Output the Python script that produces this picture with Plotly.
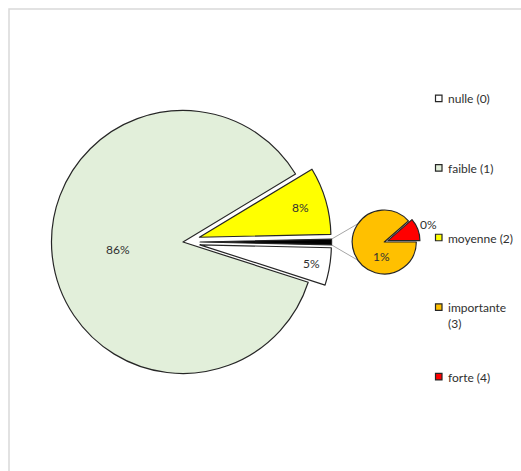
import math
import plotly.graph_objects as go

# ---------------- data ----------------
categories = ["nulle (0)", "faible (1)", "moyenne (2)", "importante (3)", "forte (4)"]
legend_text = ["nulle (0)", "faible (1)", "moyenne (2)", "importante<br>(3)", "forte (4)"]
values = [4.6, 86.4, 8.3, 0.62, 0.08]
n_second = 2  # last categories moved to the secondary pie
colors = ["#FFFFFF", "#E2EFDA", "#FFFF00", "#FFC000", "#FF0000"]
other_color = "#000000"

total = sum(values)
pct_text = [f"{round(v / total * 100)}%" for v in values]

main_labels = categories[:-n_second] + ["Autre"]
main_values = values[:-n_second] + [sum(values[-n_second:])]
main_colors = colors[:-n_second] + [other_color]
sec_labels = categories[-n_second:]
sec_values = values[-n_second:]
sec_colors = colors[-n_second:]

# ---------------- layout constants (pixels) ----------------
W, H = 521, 471
FONT = "Lato, Calibri, Carlito, sans-serif"
TXT = "#303030"
EDGE = "#262626"
FS = 12

main_c = (183.0, 242.0)
main_r = 131.5
main_pull = [0.13, 0.0, 0.13, 0.13]
sec_c = (384.3, 242.0)
sec_r = 32.0
sec_pull = [0.0, 0.12]

other_deg = main_values[-1] / total * 360
main_rot = 90 + other_deg / 2
sec_rot = 90


def domain(c, r, pull):
    half = r * (1 + max(pull))
    return dict(x=[(c[0] - half) / W, (c[0] + half) / W],
                y=[1 - (c[1] + half) / H, 1 - (c[1] - half) / H])


def slice_angles(vals, rot):
    """clockwise from 12 o'clock; returns list of (start, end) in maths degrees"""
    tot = sum(vals)
    out = []
    a = rot
    for v in vals:
        b = a + v / tot * 360
        out.append((90 - a, 90 - b))
        a = b
    return out


def polar(c, r, theta):
    t = math.radians(theta)
    return (c[0] + r * math.cos(t), c[1] - r * math.sin(t))


def to_paper(p):
    return p[0] / W, 1 - p[1] / H


fig = go.Figure()
fig.add_trace(go.Pie(
    labels=main_labels, values=main_values, sort=False, direction="clockwise",
    rotation=main_rot, pull=main_pull, domain=domain(main_c, main_r, main_pull),
    marker=dict(colors=main_colors, line=dict(color=EDGE, width=1.2)),
    textinfo="none", hoverinfo="label+percent", showlegend=False,
))
fig.add_trace(go.Pie(
    labels=sec_labels, values=sec_values, sort=False, direction="clockwise",
    rotation=sec_rot, pull=sec_pull, domain=domain(sec_c, sec_r, sec_pull),
    marker=dict(colors=sec_colors, line=dict(color=EDGE, width=1.2)),
    textinfo="none", hoverinfo="label", showlegend=False,
))

annotations = []
shapes = []
lab_font = dict(family=FONT, size=FS, color=TXT)

# data labels, main pie
main_label_r = [0.86, 0.5, 0.8]
main_ang = slice_angles(main_values, main_rot)
for i in range(len(main_values) - 1):
    a0, a1 = main_ang[i]
    mid = (a0 + a1) / 2
    cc = polar(main_c, main_pull[i] * main_r, mid)
    p = polar(cc, main_label_r[i] * main_r, mid)
    x, y = to_paper(p)
    annotations.append(dict(x=x, y=y, xref="paper", yref="paper", text=pct_text[i],
                            xanchor="center", yanchor="middle",
                            showarrow=False, font=lab_font))

# data labels, secondary pie (angle override, radius fraction)
sec_label_pos = [(-99, 0.47), (22, 1.5)]
sec_ang = slice_angles(sec_values, sec_rot)
for j, (ov, rf) in enumerate(sec_label_pos):
    a0, a1 = sec_ang[j]
    mid = (a0 + a1) / 2 if ov is None else ov
    p = polar(sec_c, rf * sec_r, mid)
    x, y = to_paper(p)
    annotations.append(dict(x=x, y=y, xref="paper", yref="paper",
                            text=pct_text[len(values) - n_second + j],
                            xanchor="center", yanchor="middle",
                            showarrow=False, font=lab_font))

# connector lines from the "other" slice to the secondary pie
o0, o1 = main_ang[-1]
omid = (o0 + o1) / 2
oc = polar(main_c, main_pull[-1] * main_r, omid)
for edge, tgt in ((max(o0, o1), 145), (min(o0, o1), 215)):
    s = to_paper(polar(oc, main_r, edge))
    e = to_paper(polar(sec_c, sec_r, tgt))
    shapes.append(dict(type="line", xref="paper", yref="paper", x0=s[0], y0=s[1],
                       x1=e[0], y1=e[1], line=dict(color="#A6A6A6", width=1), layer="below"))

# legend (right side)
leg_x, leg_y0, leg_step, sq = 435.5, 98.3, 69.6, 6.5
for i, t in enumerate(legend_text):
    yc = leg_y0 + i * leg_step
    shapes.append(dict(type="rect", xref="paper", yref="paper",
                       x0=leg_x / W, x1=(leg_x + sq) / W,
                       y0=1 - (yc + sq / 2) / H, y1=1 - (yc - sq / 2) / H,
                       fillcolor=colors[i], line=dict(color=EDGE, width=1.2)))
    annotations.append(dict(x=(leg_x + sq + 3.5) / W, y=1 - (yc - 9) / H, xref="paper", yref="paper",
                            text=t, showarrow=False, xanchor="left", yanchor="top", align="left",
                            font=lab_font))

# chart area border
shapes.append(dict(type="rect", xref="paper", yref="paper", x0=9 / W, y0=-0.05, x1=1.05,
                   y1=1 - 9 / H, line=dict(color="#D9D9D9", width=1.5), layer="below"))

fig.update_layout(width=W, height=H, margin=dict(l=0, r=0, t=0, b=0),
                  paper_bgcolor="white", plot_bgcolor="white", showlegend=False,
                  annotations=annotations, shapes=shapes,
                  font=dict(family=FONT, color=TXT))
fig.write_html("out.html")
